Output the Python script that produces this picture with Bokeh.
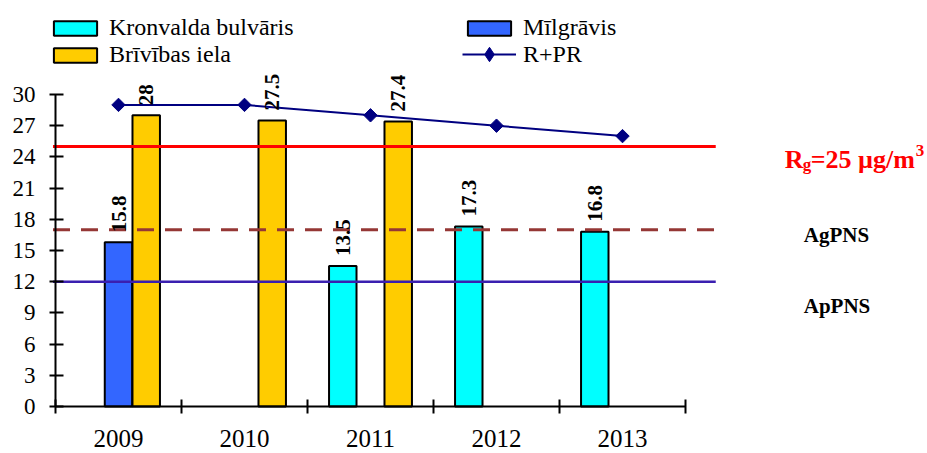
import math
from bokeh.plotting import figure
from bokeh.models import Range1d, LinearAxis, FixedTicker, Legend, LegendItem
from bokeh.core.properties import value
from bokeh.embed import file_html
from bokeh.resources import INLINE

# ---------------- data ----------------
years = ["2009", "2010", "2011", "2012", "2013"]
kronvalda = [None, None, 13.5, 17.3, 16.8]
milgravis = [15.8, None, None, None, None]
brivibas = [28.0, 27.5, 27.4, None, None]
rpr = [29, 29, 28, 27, 26]
y_ticks = list(range(0, 31, 3))
limit_values = [25, 17, 12]
limit_names = ["Rg", "AgPNS", "ApPNS"]

FONT = "Liberation Serif"
W, H = 927, 453
PX_X = 126.0   # pixels per category
PX_Y = 10.4    # pixels per unit
X0_PX = 55     # canvas x of the y axis
Y0_PX = 406    # canvas y of value 0

p = figure(width=W, height=H, output_backend="svg", toolbar_location=None,
           x_range=Range1d(-X0_PX / PX_X, (W - X0_PX) / PX_X),
           y_range=Range1d(-(H - Y0_PX) / PX_Y, Y0_PX / PX_Y),
           min_border_left=0, min_border_right=0, min_border_top=0, min_border_bottom=0,
           x_axis_type=None, y_axis_type=None)
p.outline_line_color = None
p.background_fill_color = "white"

# ---------------- axes ----------------
yax = LinearAxis(ticker=FixedTicker(ticks=y_ticks), fixed_location=0, bounds=(0, 30),
                 axis_line_color="black", axis_line_width=2,
                 major_tick_line_color="black", major_tick_line_width=2,
                 major_tick_in=8, major_tick_out=6, minor_tick_line_color=None,
                 major_label_standoff=14, major_label_text_font=FONT,
                 major_label_text_font_size="23px", major_label_text_color="black")
p.add_layout(yax, "left")

n = len(years)
xax = LinearAxis(ticker=FixedTicker(ticks=list(range(n + 1))), fixed_location=0, bounds=(0, n),
                 axis_line_color="black", axis_line_width=2,
                 major_tick_line_color="black", major_tick_line_width=2,
                 major_tick_in=7, major_tick_out=7, minor_tick_line_color=None,
                 major_label_text_color=None)
p.add_layout(xax, "below")

centers = [i + 0.5 for i in range(n)]
xlab = LinearAxis(ticker=FixedTicker(ticks=centers), fixed_location=0,
                  axis_line_color=None, major_tick_line_color=None, minor_tick_line_color=None,
                  major_tick_in=0, major_tick_out=0, major_label_standoff=23,
                  major_label_overrides={c: y for c, y in zip(centers, years)},
                  major_label_text_font=FONT, major_label_text_font_size="25px",
                  major_label_text_color="black")
p.add_layout(xlab, "below")

# ---------------- bars ----------------
offsets = [-0.22, 0.0, 0.22]
series = [("Kronvalda bulvāris", kronvalda, "#00FFFF"),
          ("Mīlgrāvis", milgravis, "#3366FF"),
          ("Brīvības iela", brivibas, "#FFCC00")]
rends = {}
lab_x, lab_y, lab_t = [], [], []
for (name, vals, color), off in zip(series, offsets):
    xs = [c + off for c, v in zip(centers, vals) if v is not None]
    ys = [v for v in vals if v is not None]
    r = p.vbar(x=xs, top=ys, bottom=0, width=0.218, fill_color=color,
               line_color="black", line_width=2)
    rends[name] = r
    lab_x += xs
    lab_y += ys
    lab_t += [f"{v:g}" for v in ys]

# ---------------- limit lines ----------------
line_end = 5.24
limit_styles = [dict(line_color="#FF0000", line_width=3, line_dash="solid"),
                dict(line_color="#953735", line_width=3, line_dash="17 11"),
                dict(line_color="#3A1FB0", line_width=2.5, line_dash="solid")]
for v, st in zip(limit_values, limit_styles):
    p.segment(x0=[-0.02], x1=[line_end], y0=[v], y1=[v], **st)

# ---------------- R+PR ----------------
rl = p.line(x=centers, y=rpr, line_color="#000080", line_width=2)
# diamond marker (hidden under the rotated squares) gives the legend its swatch
rleg = p.scatter(x=centers, y=rpr, marker="diamond", size=8,
                 fill_color="#000080", line_color="#000080")
rs = p.scatter(x=centers, y=rpr, marker="square", angle=math.pi / 4, size=9.5,
               fill_color="#000080", line_color="#000080")

# ---------------- value labels ----------------
p.text(x=lab_x, y=lab_y, text=lab_t, angle=math.pi / 2, text_align="left",
       text_baseline="middle", y_offset=-10, text_font=value(FONT),
       text_font_style="bold", text_font_size="21px", text_color="black")

# ---------------- limit annotations ----------------
bold = dict(text_font=value(FONT), text_font_style="bold", text_align="left",
            text_baseline="alphabetic")
p.text(x=[line_end], y=[limit_values[0]], text=["R"], x_offset=69, y_offset=13,
       text_font_size="26px", text_color="#FF0000", **bold)
p.text(x=[line_end], y=[limit_values[0]], text=["g"], x_offset=87, y_offset=18,
       text_font_size="17px", text_color="#FF0000", **bold)
p.text(x=[line_end], y=[limit_values[0]], text=["=25 µg/m"], x_offset=95, y_offset=13,
       text_font_size="26px", text_color="#FF0000", **bold)
p.text(x=[line_end], y=[limit_values[0]], text=["3"], x_offset=200, y_offset=4,
       text_font_size="17px", text_color="#FF0000", **bold)
p.text(x=[line_end], y=[limit_values[1]], text=[limit_names[1]], x_offset=88, y_offset=5,
       text_font_size="21px", text_color="black", **bold)
p.text(x=[line_end], y=[limit_values[2]], text=[limit_names[2]], x_offset=88, y_offset=24,
       text_font_size="21px", text_color="black", **bold)

# ---------------- legends ----------------
leg_style = dict(border_line_color=None, background_fill_alpha=0, padding=0, margin=0,
                 glyph_width=54, label_standoff=7, spacing=0,
                 label_text_font=FONT, label_text_font_size="24px",
                 label_text_color="black")
legends = [
    ("Kronvalda bulvāris", [rends["Kronvalda bulvāris"]], (48, 412), 18),
    ("Mīlgrāvis", [rends["Mīlgrāvis"]], (462, 412), 18),
    ("Brīvības iela", [rends["Brīvības iela"]], (48, 385), 18),
    ("R+PR", [rl, rleg], (462, 381), 36),
]
for label, rr, loc, gh in legends:
    lg = Legend(items=[LegendItem(label=label, renderers=rr)], location=loc,
                glyph_height=gh, **leg_style)
    p.add_layout(lg)

open("out.html", "w").write(file_html(p, INLINE))
